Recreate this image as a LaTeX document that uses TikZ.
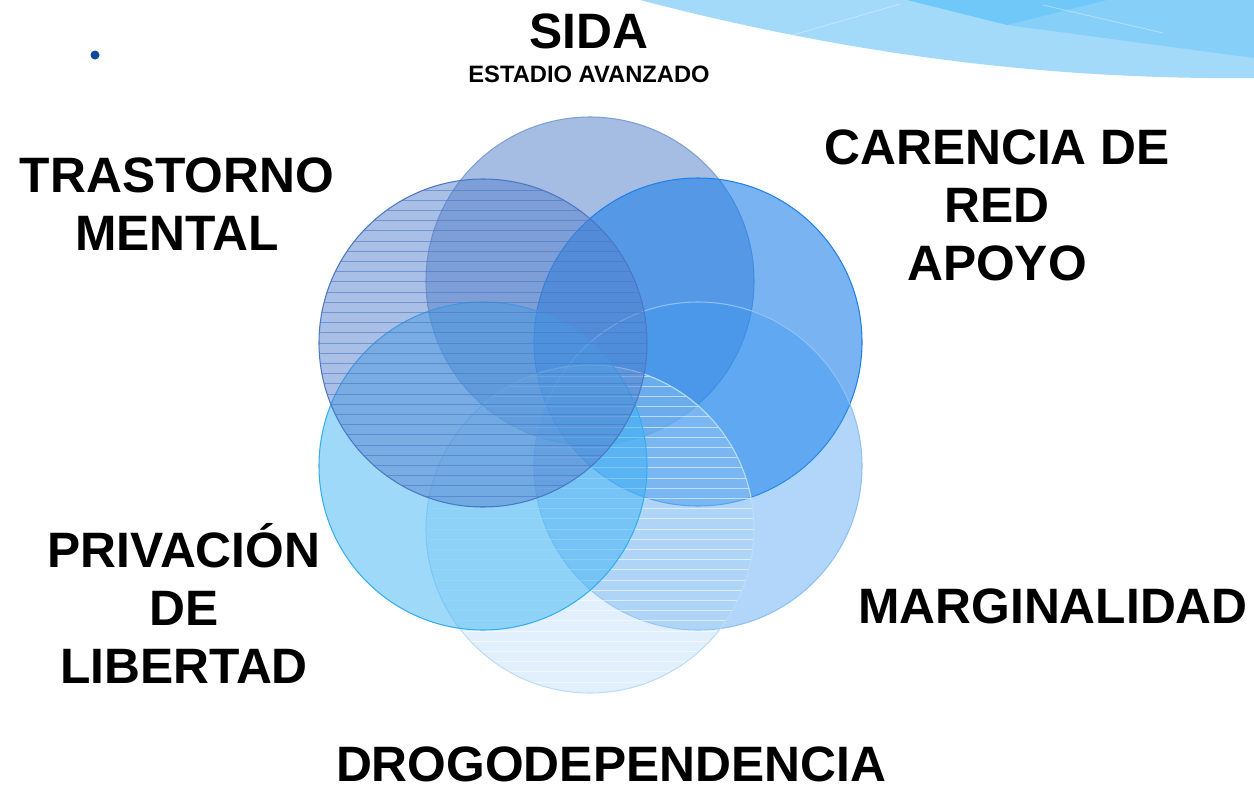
\documentclass[tikz,border=0pt]{standalone}
\usepackage{fontspec}
\setmainfont{Liberation Sans}
\usetikzlibrary{positioning}

\definecolor{olaclara}{HTML}{A3D9F9}
\definecolor{olamedia}{HTML}{86CFF8}
\definecolor{olaoscura}{HTML}{6FC8F7}
\definecolor{punto}{HTML}{0B4A9A}
\definecolor{sidaazul}{HTML}{5B86CC}
\definecolor{sidaborde}{HTML}{7E9FD3}
\definecolor{redazul}{HTML}{1F80EA}
\definecolor{margazul}{HTML}{3D98F0}
\definecolor{margborde}{HTML}{8EC2F5}
\definecolor{drogazul}{HTML}{A8D4F5}
\definecolor{drogborde}{HTML}{BCDDF6}
\definecolor{privazul}{HTML}{3DB4F5}
\definecolor{privborde}{HTML}{35AEF0}
\definecolor{trastazul}{HTML}{5580CC}
\definecolor{trastborde}{HTML}{4A78C4}

\tikzstyle{ring} = [circle, draw, minimum size=65.6mm, inner sep=0pt, line width=0.6pt]
\tikzstyle{etiqueta} = [font=\bfseries\fontsize{28.3}{33}\selectfont, align=center, inner sep=0pt]
\tikzstyle{subetiqueta} = [font=\bfseries\fontsize{13.5}{16}\selectfont, inner sep=0pt]
\tikzset{rayas/.style={path picture={
  \foreach \k in {0,...,31}
    \draw[#1] ([yshift=-\k*2.04mm-2.2mm]path picture bounding box.north west)
      -- ([yshift=-\k*2.04mm-2.2mm]path picture bounding box.north east);}}}

\begin{document}
\begin{tikzpicture}[x=0.2mm,y=-0.2mm]
  \useasboundingbox (0,0) rectangle (1254,789);

  % franja de arriba
  \fill[olaclara] (640,0) .. controls (850,55) and (1050,80) .. (1254,78) -- (1254,0) -- cycle;
  \fill[olamedia] (1007,25) -- (1254,58) -- (1254,0) -- (1107,0) -- cycle;
  \fill[olaoscura] (907,0) -- (1007,25) -- (1107,0) -- cycle;
  \draw[white, opacity=0.35, line width=0.5pt] (793,35) -- (900,4);
  \draw[white, opacity=0.35, line width=0.5pt] (1043,5) -- (1163,33);
  \fill[punto] (95,55) circle (4.5);

  % circulos
  \node[ring, fill=sidaazul, fill opacity=0.55, draw=sidaborde] (sida) at (590,281) {};
  \node[ring, fill=redazul, fill opacity=0.6, draw=redazul] (red) at (698,342) {};
  \node[ring, fill=margazul, fill opacity=0.4, draw=margborde] (marg) at (698,466) {};
  \node[ring, fill=drogazul, fill opacity=0.35, draw=drogborde,
        rayas={white, draw opacity=0.55, line width=0.5pt}] (drog) at (590,529) {};
  \node[ring, fill=privazul, fill opacity=0.5, draw=privborde] (priv) at (483,466) {};
  \node[ring, fill=trastazul, fill opacity=0.5, draw=trastborde,
        rayas={trastborde, draw opacity=0.6, line width=0.5pt}] (trast) at (483,343) {};

  % textos
  \node[etiqueta] (sidatxt) at (589,31) {SIDA};
  \node[subetiqueta] (estadio) [below=3.4mm of sidatxt] {ESTADIO AVANZADO};
  \node[etiqueta] (trasttxt) at (177,204) {TRASTORNO\\MENTAL};
  \node[etiqueta] (redtxt) at (997,205) {CARENCIA DE\\RED\\APOYO};
  \node[etiqueta] (margtxt) at (1053,606) {MARGINALIDAD};
  \node[etiqueta] (privtxt) at (184,603) {PRIVACIÓN\\DE\\LIBERTAD};
  \node[etiqueta] (drogtxt) at (611,764) {DROGODEPENDENCIA};
\end{tikzpicture}
\end{document}
